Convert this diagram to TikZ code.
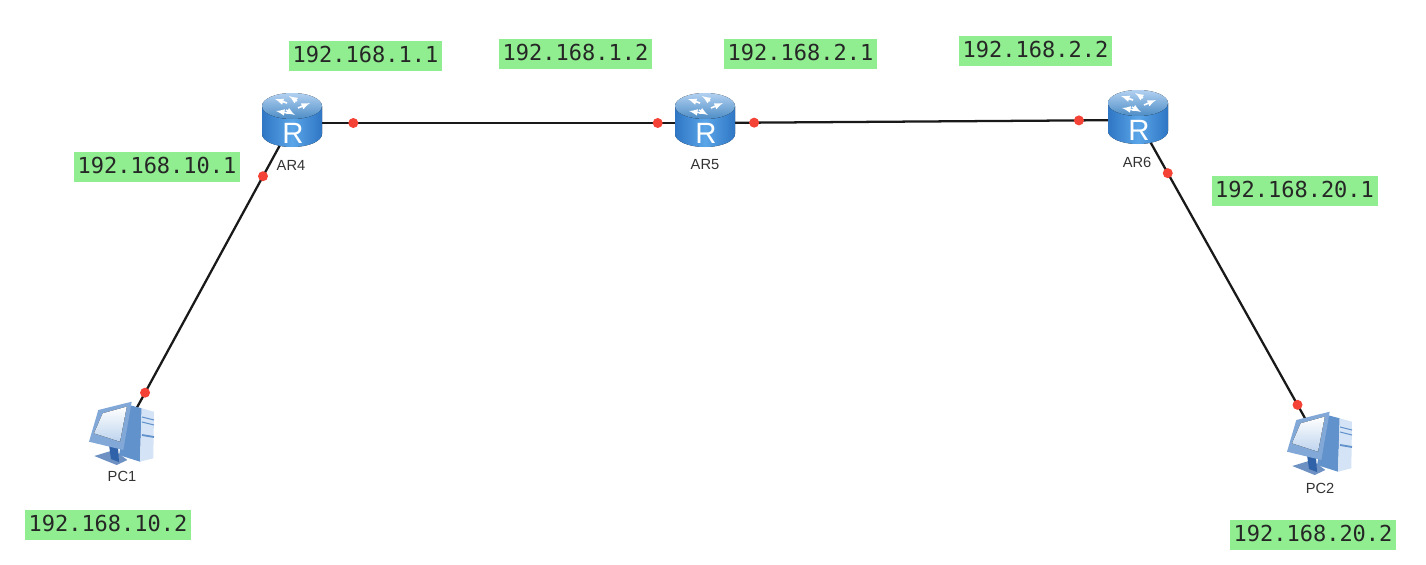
\documentclass[tikz,border=0pt]{standalone}
\usepackage{fontspec}
\setmainfont{Liberation Sans}
\newfontfamily\ipfont{DejaVu Sans Mono}
\definecolor{ipgreen}{HTML}{90EE90}
\definecolor{linkred}{HTML}{F44336}
\definecolor{routerblue}{HTML}{5AA5E8}
\definecolor{routerdark}{HTML}{2F76C4}
\definecolor{routertop}{HTML}{7FB2E8}
\definecolor{pcblue}{HTML}{6292CC}
\definecolor{pcdark}{HTML}{2F62A8}
\definecolor{pclight}{HTML}{D4E4F6}
\tikzset{
  ip/.style={fill=ipgreen,minimum width=153pt*0.75,minimum height=30pt*0.75,inner sep=0pt,text depth=2.25pt,text=black!85,font=\ipfont\fontsize{16.5}{18}\selectfont},
  ipwide/.style={ip,minimum width=166pt*0.75},
  devname/.style={font=\fontsize{11}{12}\selectfont,text=black!80},
  anchorpt/.style={inner sep=0pt,minimum size=0pt},
  link/.style={black!90,line width=1.7pt},
  portdot/.style={circle,fill=linkred,inner sep=0pt,minimum size=7.5pt},
  pics/routericon/.style={code={
    \fill[left color=routerdark,right color=routerdark,middle color=routerblue]
      (-30,-17) -- (-30,11) arc[start angle=180,end angle=0,x radius=30,y radius=13] -- (30,-17) -- cycle;
    \fill[top color=routertop!60!white,bottom color=routerblue!85!black] (0,-17) ellipse[x radius=30,y radius=13];
    \draw[white,line width=1.2pt,-latex] (-5,-20) -- (-17,-24);
    \draw[white,line width=1.2pt,-latex] (5,-22) -- (-3,-27);
    \draw[white,line width=1.2pt,-latex] (6,-15) -- (18,-20);
    \draw[white,line width=1.2pt,-latex] (-6,-13) -- (3,-8);
    \draw[white,line width=1.2pt,-latex] (-4,-10) -- (-16,-12);
    \node[white,font=\fontsize{22}{22}\selectfont] at (1,10) {R};
  }},
  pics/pcicon/.style={code={
    \fill[pcdark!70!white] (-27.7,21) -- (-8,15) -- (5.3,25) -- (-5.3,30) -- cycle;
    \fill[pcdark] (-13,10) -- (-4,12) -- (-3,27) -- (-11,24) -- cycle;
    \fill[pcblue] (7,-30) -- (19.7,-26.7) -- (18,26.7) -- (-3,20) -- cycle;
    \fill[pclight] (19.7,-26.7) -- (32,-23.3) -- (31.3,23.3) -- (18,26.7) -- cycle;
    \draw[pcblue,line width=0.8pt] (20,-18) -- (32,-15) (20,-13) -- (32,-10);
    \draw[pcblue,line width=1.4pt] (20,0) -- (32,2);
    \fill[pcblue!80!white] (-23.7,-25) -- (9.7,-33.3) -- (1.3,15) -- (-33,6.7) -- cycle;
    \fill[top color=white,bottom color=pclight!80!pcblue] (-19.3,-21.7) -- (4.7,-28.3) -- (-2,6.7) -- (-28,-1.7) -- cycle;
  }}
}
\begin{document}
\begin{tikzpicture}[x=0.75pt,y=-0.75pt]
    \useasboundingbox (0,0) rectangle (1426,564);

    % devices
    \node[anchorpt] (ar4) at (292,123) {};
    \node[anchorpt] (ar5) at (705,123) {};
    \node[anchorpt] (ar6) at (1138,120) {};
    \node[anchorpt] (pc1) at (122,435) {};
    \node[anchorpt] (pc2) at (1320,445) {};

    % links
    \draw[link] (ar4) -- (ar5) node[portdot,pos=0.148] (p41) {} node[portdot,pos=0.886] (p51) {};
    \draw[link] (ar5) -- (ar6) node[portdot,pos=0.113] (p52) {} node[portdot,pos=0.864] (p61) {};
    \draw[link] (ar4) -- (pc1) node[portdot,pos=0.17] (p42) {} node[portdot,pos=0.865] (p11) {};
    \draw[link] (ar6) -- (pc2) node[portdot,pos=0.163] (p62) {} node[portdot,pos=0.877] (p21) {};

    % icons
    \pic at (ar4) {routericon};
    \pic at (ar5) {routericon};
    \pic at (ar6) {routericon};
    \pic at (pc1) {pcicon};
    \pic at (pc2) {pcicon};

    \node[devname] (ar4name) at (291,165) {AR4};
    \node[devname] (ar5name) at (705,165) {AR5};
    \node[devname] (ar6name) at (1137,162) {AR6};
    \node[devname] (pc1name) at (122,476) {PC1};
    \node[devname] (pc2name) at (1320,488) {PC2};

    % addresses
    \node[ip] (ip41) at (365.5,56) {192.168.1.1};
    \node[ip] (ip51) at (575.5,54) {192.168.1.2};
    \node[ip] (ip52) at (800.5,54) {192.168.2.1};
    \node[ip] (ip61) at (1035.5,51) {192.168.2.2};
    \node[ipwide] (ip42) at (157,167) {192.168.10.1};
    \node[ipwide] (ip62) at (1294.5,191) {192.168.20.1};
    \node[ipwide] (ip11) at (108,525) {192.168.10.2};
    \node[ipwide] (ip21) at (1313,534.5) {192.168.20.2};
\end{tikzpicture}
\end{document}
